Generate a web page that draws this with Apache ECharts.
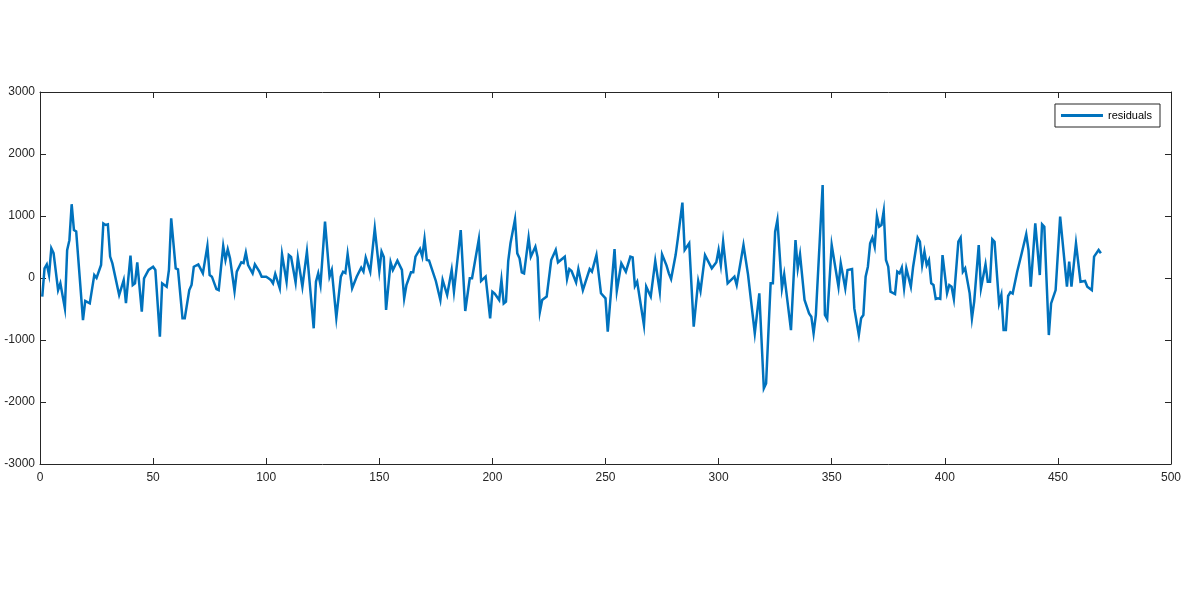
<!DOCTYPE html>
<html>
<head>
<meta charset="utf-8">
<script src="https://cdn.jsdelivr.net/npm/echarts@6/dist/echarts.min.js"></script>
<style>html,body{margin:0;padding:0;background:#fff}#c{width:1184px;height:589px}</style>
</head>
<body>
<div id="c"></div>
<script>
const seriesName = 'residuals';
const xTicks = [0,50,100,150,200,250,300,350,400,450,500];
const yTicks = [-3000,-2000,-1000,0,1000,2000,3000];
const idx = [1,2,3,4,5,6,8,9,11,12,13,14,15,16,19,20,22,24,25,27,28,29,30,31,32,35,37,38,40,41,42,43,45,46,48,50,51,53,54,56,57,58,60,61,63,64,66,67,68,70,72,74,75,76,78,79,81,82,83,84,86,87,89,90,91,92,94,95,97,98,100,101,102,103,104,106,107,109,110,111,113,114,116,118,121,122,123,124,126,128,129,131,133,134,135,136,138,140,142,143,144,146,148,150,151,152,153,155,156,158,160,161,162,164,165,166,168,169,170,171,172,175,177,178,180,182,183,186,188,190,191,194,195,197,199,200,201,203,204,205,206,207,208,210,211,212,213,214,216,217,219,220,221,222,224,226,228,229,232,233,234,235,237,238,240,243,244,246,248,250,251,254,255,257,259,261,262,263,264,267,268,270,272,274,275,277,278,279,281,282,284,285,287,289,291,292,294,297,299,300,301,302,304,307,308,311,313,316,318,320,321,323,324,325,326,328,329,332,334,335,336,338,340,341,342,343,346,347,348,350,353,354,356,357,359,360,362,363,364,365,366,367,368,369,370,371,372,373,374,375,376,378,379,380,381,382,383,385,386,388,389,390,391,392,393,394,395,396,397,398,399,401,402,403,404,406,407,408,409,411,412,413,415,416,418,419,420,421,422,424,425,426,427,428,429,430,432,434,436,437,438,440,442,443,444,446,447,449,451,454,455,456,458,460,462,463,465,466,468,469];
const residuals = [-300,156,220,48,480,400,-195,-86,-490,450,610,1190,775,750,-680,-370,-410,48,0,210,880,855,865,345,236,-275,-35,-405,360,-115,-86,253,-543,-5,130,182,130,-946,-86,-140,130,963,156,140,-650,-650,-195,-113,182,220,75,516,48,21,-180,-195,516,290,463,317,-210,102,253,240,408,210,75,220,102,21,21,-5,-30,-86,65,-166,382,-60,370,340,-70,328,-140,425,-811,-60,75,-113,908,21,130,-640,21,102,80,387,-166,21,166,102,328,102,800,113,425,340,-516,253,130,280,130,-328,-113,92,92,344,468,344,629,290,280,-48,-355,-32,-274,130,-220,774,-532,-5,-5,624,-48,21,-650,-220,-250,-355,-32,-410,-380,274,560,947,398,317,92,75,650,344,505,333,-543,-355,-300,290,452,253,344,-16,145,113,-70,145,-195,145,102,370,-247,-328,-866,468,-210,236,102,344,333,-130,-60,-758,-140,-300,274,-220,382,200,75,-16,370,640,1215,452,560,-785,-48,-210,370,156,253,452,210,586,-86,21,-113,532,59,-892,-247,-1780,-1700,-86,-86,747,935,-166,59,-840,613,156,382,-355,-570,-624,-892,-597,1500,-597,-660,532,-140,236,-166,130,145,-490,-920,-650,-597,21,182,560,650,505,1000,828,855,1080,290,182,-220,-258,102,75,166,-166,156,-140,182,650,586,210,425,210,290,-86,-113,-338,-328,-338,370,-247,-113,-140,-338,586,650,102,156,-247,-650,-380,532,-166,220,-60,-60,624,586,-410,-274,-840,-840,-290,-230,-250,102,398,705,452,-140,882,48,866,828,-920,-410,-195,990,-140,263,-140,560,-60,-48,-140,-195,344,452,398];

const chart = echarts.init(document.getElementById('c'), null, {renderer:'canvas'});
const axisColor = '#262626';
const font = 'Liberation Sans, Arial, sans-serif';
const baseAxis = {
  axisLine: {show: true, onZero: false, lineStyle: {color: axisColor, width: 1}},
  axisTick: {show: true, inside: true, length: 6, lineStyle: {color: axisColor}},
  splitLine: {show: false}
};
chart.setOption({
  animation: false,
  backgroundColor: '#ffffff',
  grid: {left: 40, right: 12, top: 92, bottom: 125, containLabel: false},
  legend: {
    data: [{name: seriesName, icon: 'rect'}],
    right: 24, top: 104,
    itemWidth: 42, itemHeight: 3, itemGap: 6,
    padding: [6, 8, 6, 6],
    borderColor: axisColor, borderWidth: 1,
    backgroundColor: '#fff',
    textStyle: {fontFamily: font, fontSize: 11, color: '#000'}
  },
  xAxis: [
    Object.assign({}, baseAxis, {
      type: 'value', min: xTicks[0], max: xTicks[xTicks.length-1], interval: 50, position: 'bottom',
      axisLabel: {color: axisColor, fontFamily: font, fontSize: 12, margin: 8, formatter: v => String(v)}
    }),
    Object.assign({}, baseAxis, {
      type: 'value', min: xTicks[0], max: xTicks[xTicks.length-1], interval: 50, position: 'top',
      axisLabel: {show: false}
    })
  ],
  yAxis: [
    Object.assign({}, baseAxis, {
      type: 'value', min: yTicks[0], max: yTicks[yTicks.length-1], interval: 1000, position: 'left',
      axisLabel: {color: axisColor, fontFamily: font, fontSize: 12, margin: 5, formatter: v => String(v)}
    }),
    Object.assign({}, baseAxis, {
      type: 'value', min: yTicks[0], max: yTicks[yTicks.length-1], interval: 1000, position: 'right',
      axisLabel: {show: false}
    })
  ],
  series: [{
    name: seriesName,
    type: 'line',
    xAxisIndex: 0, yAxisIndex: 0,
    data: idx.map((x, i) => [x, residuals[i]]),
    symbol: 'none',
    lineStyle: {color: '#0072BD', width: 2.5, join: 'miter'},
    itemStyle: {color: '#0072BD'}
  }]
});
</script>
</body>
</html>
